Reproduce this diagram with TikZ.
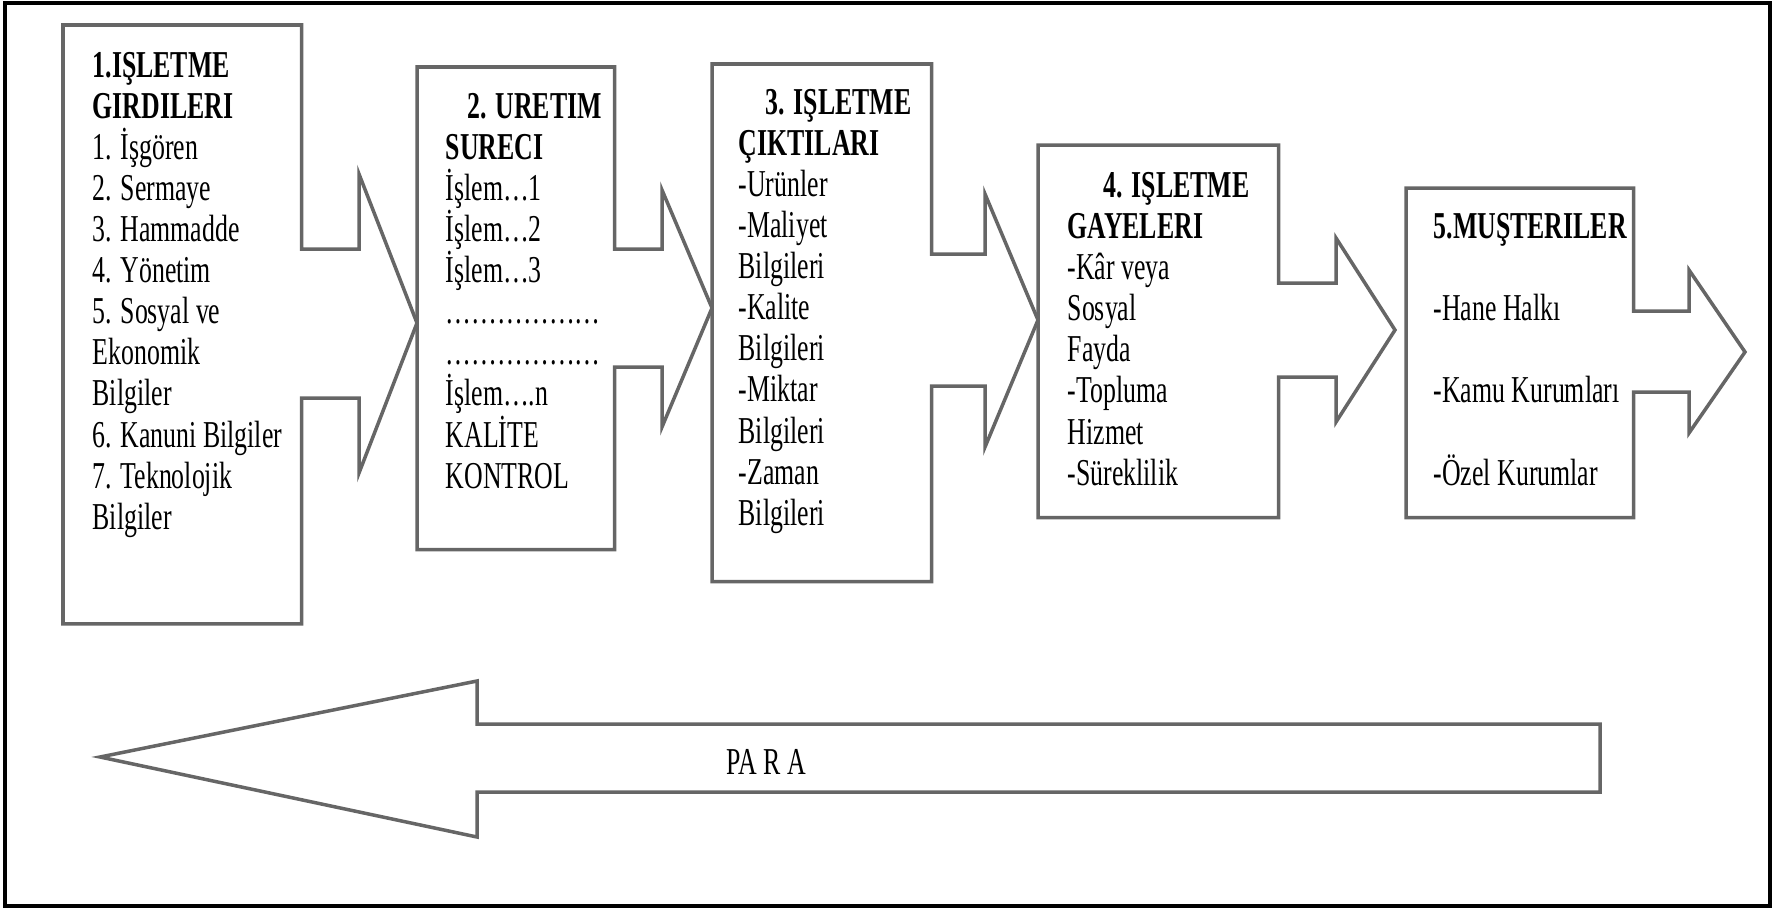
\documentclass[tikz,border=0pt]{standalone}
\usepackage{fontspec}
\setmainfont[FakeStretch=0.68]{Liberation Serif}
\usetikzlibrary{positioning,calc}

\begin{document}
\begin{tikzpicture}[x=0.01cm, y=-0.01cm,
    frame/.style={draw=black, line width=0.04cm},
    outline/.style={draw=black!60, line width=0.035cm, line join=miter},
    box/.style={rectangle, anchor=north west, inner sep=0pt},
    txt/.style={anchor=base west, inner sep=0pt, align=left, font=\fontsize{10.8}{11.66}\selectfont}]

\useasboundingbox (0,0) rectangle (1779,909);
\draw[frame] (5,3) rectangle (1770,906);

% Box areas (top left corner, size)
\node[box, minimum width=2.37cm, minimum height=5.97cm] (b1) at (63,25) {};
\node[box, minimum width=1.96cm, minimum height=4.81cm] (b2) at (417,67) {};
\node[box, minimum width=2.18cm, minimum height=5.16cm] (b3) at (712,64) {};
\node[box, minimum width=2.39cm, minimum height=3.71cm] (b4) at (1038,145) {};
\node[box, minimum width=2.26cm, minimum height=3.28cm] (b5) at (1406,188) {};

% Each box with its outgoing block arrow as one outline
\draw[outline] (b1.north west) -- (b1.north east) -- (b1.east |- 0,249) -- (359,249) -- (359,174)
    -- (b2.west |- 0,323) -- (359,473) -- (359,398) -- (b1.east |- 0,398)
    -- (b1.south east) -- (b1.south west) -- cycle;
\draw[outline] (b2.north west) -- (b2.north east) -- (b2.east |- 0,249) -- (662,249) -- (662,190)
    -- (b3.west |- 0,308) -- (662,427) -- (662,367) -- (b2.east |- 0,367)
    -- (b2.south east) -- (b2.south west) -- cycle;
\draw[outline] (b3.north west) -- (b3.north east) -- (b3.east |- 0,254) -- (985,254) -- (985,194)
    -- (b4.west |- 0,320) -- (985,447) -- (985,386) -- (b3.east |- 0,386)
    -- (b3.south east) -- (b3.south west) -- cycle;
\draw[outline] (b4.north west) -- (b4.north east) -- (b4.east |- 0,283) -- (1336,283) -- (1336,238)
    -- (1395,330) -- (1336,422) -- (1336,377) -- (b4.east |- 0,377)
    -- (b4.south east) -- (b4.south west) -- cycle;
\draw[outline] (b5.north west) -- (b5.north east) -- (b5.east |- 0,311) -- (1689,311) -- (1689,270)
    -- (1745,352) -- (1689,433) -- (1689,392) -- (b5.east |- 0,392)
    -- (b5.south east) -- (b5.south west) -- cycle;

% Money flowing back
\draw[outline] (1600,724) -- (477,724) -- (477,681) -- (100,757) -- (477,837) -- (477,792)
    -- (1600,792) -- cycle;
\node[txt] (para) at (726,774) {PA R A};

% Box texts, placed at the baseline of their last line
\node[txt] (girdi) at (92,529) {\textbf{1.IŞLETME}\\ \textbf{GIRDILERI}\\
    1. İşgören\\ 2. Sermaye\\ 3. Hammadde\\ 4. Yönetim\\ 5. Sosyal ve\\
    Ekonomik\\ Bilgiler\\ 6. Kanuni Bilgiler\\ 7. Teknolojik\\ Bilgiler};

\node[txt] (uretim) at (445,488) {\hspace*{0.22cm}\textbf{2. URETIM}\\ \textbf{SURECI}\\
    İşlem…1\\ İşlem…2\\ İşlem…3\\ ………………\\ ………………\\
    İşlem….n\\ KALİTE\\ KONTROL};

\node[txt] (cikti) at (738,525) {\hspace*{0.27cm}\textbf{3. IŞLETME}\\ \textbf{ÇIKTILARI}\\
    -Urünler\\ -Maliyet\\ Bilgileri\\ -Kalite\\ Bilgileri\\ -Miktar\\ Bilgileri\\
    -Zaman\\ Bilgileri};

\node[txt] (gaye) at (1067,485) {\hspace*{0.36cm}\textbf{4. IŞLETME}\\ \textbf{GAYELERI}\\
    -Kâr veya\\ Sosyal\\ Fayda\\ -Topluma\\ Hizmet\\ -Süreklilik};

\node[txt] (musteri) at (1433,485) {\textbf{5.MUŞTERILER}\\[0.41cm]
    -Hane Halkı\\[0.41cm] -Kamu Kurumları\\[0.41cm] -Özel Kurumlar};

\end{tikzpicture}
\end{document}
